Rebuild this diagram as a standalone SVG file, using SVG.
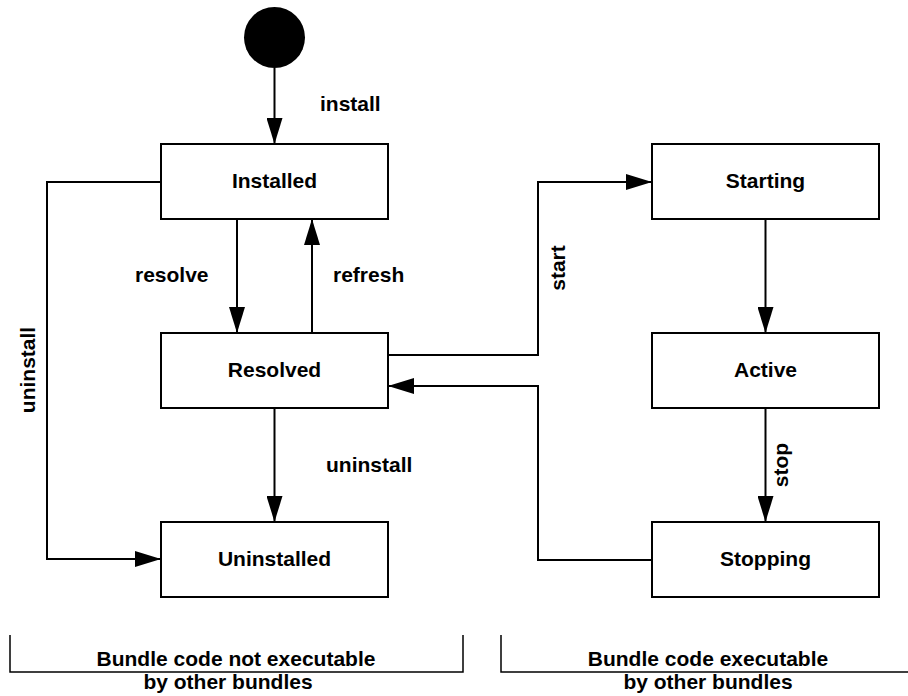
<svg xmlns="http://www.w3.org/2000/svg" width="908" height="696" viewBox="0 0 908 696">
<style>
.box{fill:#fff;stroke:#000;stroke-width:2}
.lbl{font-family:"Liberation Sans",Arial,sans-serif;font-weight:bold;font-size:21px;fill:#000}
.mid{text-anchor:middle}
.con{fill:none;stroke:#000;stroke-width:2;marker-end:url(#arr)}
.br{fill:none;stroke:#000;stroke-width:1.5}
</style>
<defs>
<marker id="arr" viewBox="0 0 26 16" refX="26" refY="8" markerWidth="26" markerHeight="16" markerUnits="userSpaceOnUse" orient="auto">
<path d="M0,0 L26,8 L0,16 z" fill="#000"/>
</marker>
</defs>
<rect width="908" height="696" fill="#fff"/>
<g id="connectors">
<path class="con" d="M274.5,68 V144"/>
<path class="con" d="M237,219 V333"/>
<path class="con" d="M312,333 V219"/>
<path class="con" d="M161,182 H47 V559 H161"/>
<path class="con" d="M274.5,408 V522"/>
<path class="con" d="M388,355 H538 V182 H652"/>
<path class="con" d="M765.5,219 V333"/>
<path class="con" d="M765.5,408 V522"/>
<path class="con" d="M652,560 H538 V386 H388"/>
</g>
<g id="labels">
<text class="lbl" x="320" y="111">install</text>
<text class="lbl" x="135" y="282">resolve</text>
<text class="lbl" x="333" y="282">refresh</text>
<text class="lbl" x="326" y="472">uninstall</text>
<text class="lbl mid" transform="translate(35,370) rotate(-90)">uninstall</text>
<text class="lbl mid" transform="translate(565,268) rotate(-90)">start</text>
<text class="lbl mid" transform="translate(788,465) rotate(-90)">stop</text>
</g>
<g id="initial"><circle cx="274.5" cy="37.5" r="30.5" fill="#000"/></g>
<g id="installed"><rect class="box" x="161" y="144" width="227" height="75"/><text class="lbl mid" x="274.5" y="188">Installed</text></g>
<g id="resolved"><rect class="box" x="161" y="333" width="227" height="75"/><text class="lbl mid" x="274.5" y="377">Resolved</text></g>
<g id="uninstalled"><rect class="box" x="161" y="522" width="227" height="75"/><text class="lbl mid" x="274.5" y="566">Uninstalled</text></g>
<g id="starting"><rect class="box" x="652" y="144" width="227" height="75"/><text class="lbl mid" x="765.5" y="188">Starting</text></g>
<g id="active"><rect class="box" x="652" y="333" width="227" height="75"/><text class="lbl mid" x="765.5" y="377">Active</text></g>
<g id="stopping"><rect class="box" x="652" y="522" width="227" height="75"/><text class="lbl mid" x="765.5" y="566">Stopping</text></g>
<g id="bracket-left">
<path class="br" d="M10,635 V672 H463 V635"/>
<text class="lbl mid" x="236" y="666">Bundle code not executable</text>
<text class="lbl mid" x="228" y="689">by other bundles</text>
</g>
<g id="bracket-right">
<path class="br" d="M501,635 V672 H908"/>
<text class="lbl mid" x="708" y="666">Bundle code executable</text>
<text class="lbl mid" x="708" y="689">by other bundles</text>
</g>
</svg>
